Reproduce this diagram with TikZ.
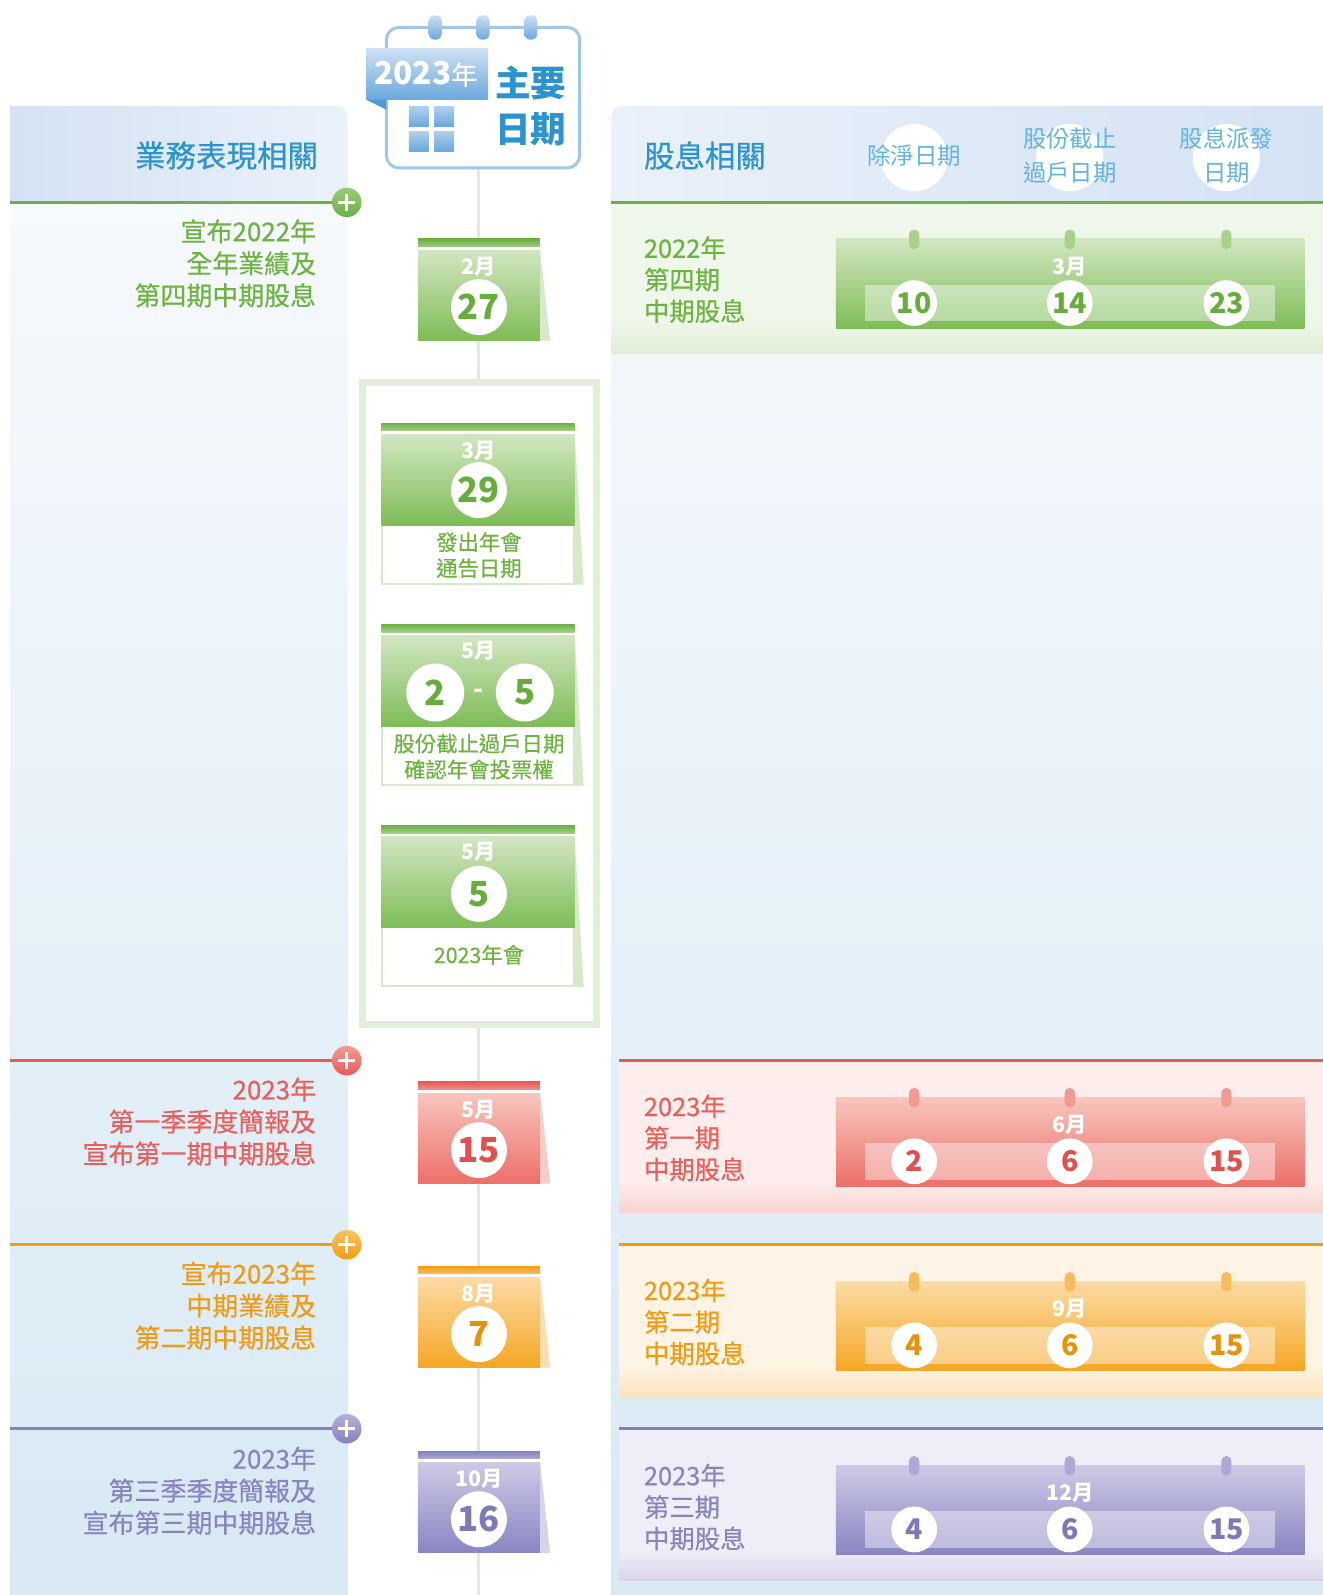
\documentclass[tikz,border=0pt]{standalone}
\usepackage{fontspec}
\setmainfont{Noto Sans CJK TC}
\newfontfamily\medfont{Noto Sans CJK TC}[FakeBold=0.45]
\usetikzlibrary{calc}
% greens
\definecolor{Gtxt}{HTML}{6DB33F}\definecolor{Gdark}{HTML}{6CB046}\definecolor{Gtop}{HTML}{D2E6C1}
\definecolor{Gbot}{HTML}{7DBC55}\definecolor{Gpeg}{HTML}{A8D08B}\definecolor{Gsec}{HTML}{EFF6EA}
\definecolor{Gsecbot}{HTML}{E0EED5}\definecolor{Gfold}{HTML}{D6E9C9}\definecolor{Gnum}{HTML}{66AD3B}
\definecolor{Glite}{HTML}{9ACB78}
% reds
\definecolor{Rtxt}{HTML}{E8605C}\definecolor{Rdark}{HTML}{E85A55}\definecolor{Rtop}{HTML}{F7C6BD}
\definecolor{Rbot}{HTML}{EC6E68}\definecolor{Rpeg}{HTML}{F19A91}\definecolor{Rsec}{HTML}{FDEEED}
\definecolor{Rsecbot}{HTML}{F9D3CD}\definecolor{Rfold}{HTML}{F8CCC5}\definecolor{Rnum}{HTML}{E2504E}
\definecolor{Rlite}{HTML}{F29B95}
% oranges
\definecolor{Otxt}{HTML}{F29A12}\definecolor{Odark}{HTML}{F39C12}\definecolor{Otop}{HTML}{FCDBA6}
\definecolor{Obot}{HTML}{F5A623}\definecolor{Opeg}{HTML}{F8BC5C}\definecolor{Osec}{HTML}{FEF4E5}
\definecolor{Osecbot}{HTML}{FDE1BB}\definecolor{Ofold}{HTML}{FBDDAE}\definecolor{Onum}{HTML}{E8920A}
\definecolor{Olite}{HTML}{F9C264}
% purples
\definecolor{Ptxt}{HTML}{8884BF}\definecolor{Pdark}{HTML}{8581BF}\definecolor{Ptop}{HTML}{CDCAE6}
\definecolor{Pbot}{HTML}{8985C1}\definecolor{Ppeg}{HTML}{ADA9D5}\definecolor{Psec}{HTML}{EFEEF8}
\definecolor{Psecbot}{HTML}{D8D5EB}\definecolor{Pfold}{HTML}{D6D4EB}\definecolor{Pnum}{HTML}{7E7AB8}
\definecolor{Plite}{HTML}{B4B1DB}
% blues
\definecolor{Btxt}{HTML}{2B93CF}\definecolor{Blight}{HTML}{62B3E4}\definecolor{Bhdark}{HTML}{D4E2F3}
\definecolor{Bhlite}{HTML}{EAF1FA}\definecolor{BGtop}{HTML}{F6F9FD}\definecolor{BGbot}{HTML}{D8E9F4}
\definecolor{Bborder}{HTML}{A2C8E8}\definecolor{Bbtop}{HTML}{CDE0F4}\definecolor{Bbbot}{HTML}{6BA8DC}
\definecolor{Bfold}{HTML}{4E98D4}\definecolor{Vline}{HTML}{E6E6E6}\definecolor{Boxline}{HTML}{E1EED8}

\newcommand\TearTab[5]{% #1 top y, #2 colour prefix, #3 month, #4 number, #5 name
  \fill[#2fold] (531,#1+10) -- (541,#1+100) -- (531,#1+100) -- cycle;
  \shade[top color=#2dark, bottom color=#2dark!65!white] (411,#1) rectangle (531,#1+8);
  \fill[white] (411,#1+8) rectangle (531,#1+11);
  \shade[top color=#2top, bottom color=#2bot] (411,#1+11) rectangle (531,#1+100);
  \node[month] (#5m) at (471,#1+27) {#3};
  \node[datecirc, text=#2num] (#5) at (471,#1+67) {#4};
}
\newcommand\AGMTab[1]{% #1 top y
  \fill[Gfold] (565,#1+10) -- (574,#1+159) -- (565,#1+159) -- cycle;
  \shade[top color=Gdark, bottom color=Gdark!60!white] (375,#1) rectangle (565,#1+8);
  \fill[white] (375,#1+8) rectangle (565,#1+11);
  \shade[top color=Gtop, bottom color=Gbot] (375,#1+11) rectangle (565,#1+101);
  \fill[white] (375,#1+101) rectangle (565,#1+159);
  \draw[Gfold, line width=2] (376,#1+101) -- (376,#1+158) -- (564,#1+158) -- (564,#1+101);
}
\newcommand\SecBand[3]{% #1 left x, #2 top y, #3 prefix
  \fill[#3sec] (#1,#2) rectangle (1301,#2+149);
  \shade[top color=#3sec, bottom color=#3secbot] (#1,#2+118) rectangle (1301,#2+149);
}
\newcommand\DivCal[6]{% #1 section top, #2 prefix, #3 month, #4 #5 #6 days
  \shade[top color=#2top, bottom color=#2bot] (822,#1+36) rectangle (1283,#1+124);
  \fill[white, opacity=0.42] (851,#1+81) rectangle (1254,#1+117);
  \foreach \px in {899,1052,1206} {\fill[#2peg, rounded corners=4.5] (\px-5,#1+27) rectangle (\px+5,#1+46);}
  \node[month] (#2calm) at (1052,#1+63) {#3};
  \node[smallcirc, text=#2num] (#2d1) at (899,#1+99) {#4};
  \node[smallcirc, text=#2num] (#2d2) at (1052,#1+99) {#5};
  \node[smallcirc, text=#2num] (#2d3) at (1206,#1+99) {#6};
}

\begin{document}
\begin{tikzpicture}[x=1pt,y=-1pt,
  month/.style={font=\fontsize{21}{21}\selectfont\bfseries, text=white, inner sep=0},
  datecirc/.style={circle, fill=white, inner sep=0, minimum size=55, font=\fontsize{34}{34}\selectfont\bfseries},
  smallcirc/.style={circle, fill=white, inner sep=0, minimum size=45, font=\fontsize{28}{28}\selectfont\bfseries},
  lefttxt/.style={font=\medfont\fontsize{25.5}{31.5}\selectfont, inner sep=0, align=right, anchor=east},
  righttxt/.style={font=\medfont\fontsize{25}{31}\selectfont, inner sep=0, align=left, anchor=west},
  agmtxt/.style={font=\medfont\fontsize{21}{25.5}\selectfont, inner sep=0, align=center, text=Gtxt},
  colhdr/.style={font=\fontsize{23}{33}\selectfont, inner sep=0, align=center, text=Blight},
  plusc/.style={circle, minimum size=29, inner sep=0},
  secline/.style={line width=2.5},
]
\useasboundingbox (0,0) rectangle (1301,1568.5);
\fill[white] (0,0) rectangle (1301,1568.5);

% ---------- panels ----------
\shade[top color=BGtop, bottom color=BGbot] (10,199) rectangle (342,1568.5);
\shade[left color=Bhdark, right color=Bhlite] (10,199) -- (10,104) -- (317,104) .. controls (342,104) .. (342,129) -- (342,199) -- cycle;
\shade[top color=BGtop, bottom color=BGbot] (601,199) rectangle (1301,1568.5);
\shade[left color=Bhlite, right color=Bhdark] (601,199) -- (601,129) .. controls (601,104) .. (626,104) -- (1301,104) -- (1301,199) -- cycle;

% ---------- right section bands ----------
\SecBand{601}{199}{G}
\SecBand{609}{1043}{R}
\SecBand{609}{1224}{O}
\SecBand{609}{1405}{P}

% ---------- central grey line ----------
\coordinate (vtop) at (471,165);
\coordinate (vbot) at (471,1568.5);
\draw[Vline, line width=3] (vtop) -- (vbot);

% ---------- calendar icon ----------
\node[draw=Bborder, line width=3, fill=white, rounded corners=12, minimum width=190, minimum height=138, inner sep=0] (icon) at (475,96) {};
\foreach \px in {428,475,522} {\shade[top color=Bbtop, bottom color=Bbbot, rounded corners=6] (\px-6.5,15) rectangle (\px+6.5,39);}
\shade[top color=Bbtop, bottom color=Bbbot] (360,48) rectangle (480,98);
\fill[Bfold] (360,98) -- (380,98) -- (380,108) -- cycle;
\node[text=white, inner sep=0] (yr) at (419,73) {{\fontsize{31}{31}\selectfont\bfseries 2023}{\medfont\fontsize{26}{26}\selectfont 年}};
\foreach \sx/\sy in {402/105,427/105,402/129,427/129} {\shade[top color=Bbtop!70!Bbbot, bottom color=Bbbot] (\sx,\sy) rectangle (\sx+19.5,\sy+19.5);}
\node[text=Btxt, font=\fontsize{35}{35}\selectfont\bfseries, inner sep=0] (zy) at (522,82) {主要};
\node[text=Btxt, font=\fontsize{35}{35}\selectfont\bfseries, inner sep=0] (rq) at (522,127) {日期};

% ---------- headers ----------
\node[font=\medfont\fontsize{30}{30}\selectfont, text=Btxt, inner sep=0, anchor=east] (lh) at (313,153) {業務表現相關};
\node[font=\medfont\fontsize{30}{30}\selectfont, text=Btxt, inner sep=0, anchor=west] (rh) at (633,153) {股息相關};
\node[circle, fill=white, minimum size=66] (hc1) at (899,155) {};
\node[circle, fill=white, minimum size=66] (hc2) at (1052,155) {};
\node[circle, fill=white, minimum size=66] (hc3) at (1206,155) {};
\node[colhdr] (h1) at (899,153) {除淨日期};
\node[colhdr] (h2) at (1052,153) {股份截止\\過戶日期};
\node[colhdr] (h3) at (1206,153) {股息派發\\日期};

% ---------- section lines & plus markers ----------
\node[plusc, shade, top color=Glite, bottom color=Gdark] (pG) at (341,199) {};
\node[plusc, shade, top color=Rlite, bottom color=Rdark] (pR) at (341,1043) {};
\node[plusc, shade, top color=Olite, bottom color=Odark] (pO) at (341,1224) {};
\node[plusc, shade, top color=Plite, bottom color=Pdark] (pP) at (341,1405) {};
\foreach \p in {pG,pR,pO,pP} {
  \draw[white, line width=3] ([xshift=-8.5pt]\p.center) -- ([xshift=8.5pt]\p.center);
  \draw[white, line width=3] ([yshift=-8.5pt]\p.center) -- ([yshift=8.5pt]\p.center);
}
\coordinate (lG) at (10,199);  \draw[Gdark, secline] (lG) -- (pG.west);
\coordinate (lR) at (10,1043); \draw[Rdark, secline] (lR) -- (pR.west);
\coordinate (lO) at (10,1224); \draw[Odark, secline] (lO) -- (pO.west);
\coordinate (lP) at (10,1405); \draw[Pdark, secline] (lP) -- (pP.west);
\coordinate (rG1) at (601,199);  \coordinate (rG2) at (1301,199);  \draw[Gdark, secline] (rG1) -- (rG2);
\coordinate (rR1) at (609,1043); \coordinate (rR2) at (1301,1043); \draw[Rdark, secline] (rR1) -- (rR2);
\coordinate (rO1) at (609,1224); \coordinate (rO2) at (1301,1224); \draw[Odark, secline] (rO1) -- (rO2);
\coordinate (rP1) at (609,1405); \coordinate (rP2) at (1301,1405); \draw[Pdark, secline] (rP1) -- (rP2);

% ---------- left texts ----------
\node[lefttxt, text=Gtxt] (tG) at (311,259) {宣布2022年\\全年業績及\\第四期中期股息};
\node[lefttxt, text=Rtxt] (tR) at (311,1103) {2023年\\第一季季度簡報及\\宣布第一期中期股息};
\node[lefttxt, text=Otxt] (tO) at (311,1284) {宣布2023年\\中期業績及\\第二期中期股息};
\node[lefttxt, text=Ptxt] (tP) at (311,1466) {2023年\\第三季季度簡報及\\宣布第三期中期股息};

% ---------- middle tear-off dates ----------
\TearTab{235}{G}{2月}{27}{dG}
\TearTab{1064}{R}{5月}{15}{dR}
\TearTab{1245}{O}{8月}{7}{dO}
\TearTab{1427}{P}{10月}{16}{dP}

% ---------- AGM box ----------
\node[draw=Boxline, line width=7, fill=white, minimum width=230, minimum height=631, inner sep=0] (agm) at (471.5,692) {};
\AGMTab{416}
\node[month] (a1m) at (471,443) {3月};
\node[datecirc, text=Gnum] (a1) at (471,482) {29};
\node[agmtxt] (a1t) at (471,546) {發出年會\\通告日期};
\AGMTab{614}
\node[month] (a2m) at (471,640) {5月};
\node[datecirc, text=Gnum, minimum size=57] (a2a) at (428,681) {2};
\node[datecirc, text=Gnum, minimum size=57] (a2b) at (516,681) {5};
\node[font=\fontsize{26}{26}\selectfont\bfseries, text=white, inner sep=0] (a2d) at (471,682) {-};
\node[agmtxt] (a2t) at (471,744) {股份截止過戶日期\\確認年會投票權};
\AGMTab{812}
\node[month] (a3m) at (471,838) {5月};
\node[datecirc, text=Gnum] (a3) at (471,879) {5};
\node[agmtxt] (a3t) at (471,939) {2023年會};

% ---------- right texts & dividend calendars ----------
\node[righttxt, text=Gtxt] (sG) at (633,275) {2022年\\第四期\\中期股息};
\node[righttxt, text=Rtxt] (sR) at (633,1119) {2023年\\第一期\\中期股息};
\node[righttxt, text=Otxt] (sO) at (633,1300) {2023年\\第二期\\中期股息};
\node[righttxt, text=Ptxt] (sP) at (633,1482) {2023年\\第三期\\中期股息};
\DivCal{199}{G}{3月}{10}{14}{23}
\DivCal{1043}{R}{6月}{2}{6}{15}
\DivCal{1224}{O}{9月}{4}{6}{15}
\DivCal{1405}{P}{12月}{4}{6}{15}
\end{tikzpicture}
\end{document}
